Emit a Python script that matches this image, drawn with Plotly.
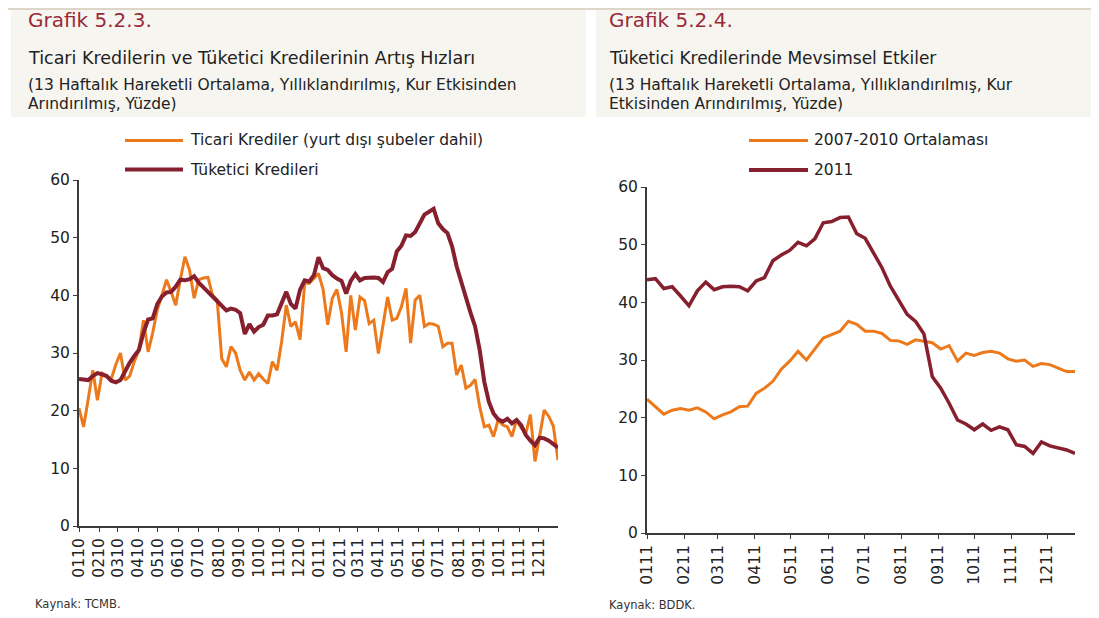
import pandas as pd
import plotly.graph_objects as go

# ---------------- data ----------------
# Left chart: weekly, 2010-01 .. 2011-12
left_dates = pd.date_range("2010-01-01", periods=105, freq="7D")
ticari = [20.4, 17.2, 22.0, 27.0, 21.8, 26.5, 26.0, 25.5, 28.0, 30.0,
          25.3, 26.0, 28.5, 30.5, 35.7, 30.2, 33.5, 37.5, 40.0, 42.7,
          40.6, 38.3, 42.7, 46.7, 44.4, 39.5, 42.7, 43.0, 43.1, 40.0,
          39.2, 29.0, 27.6, 31.1, 30.0, 27.0, 25.3, 26.7, 25.3, 26.4,
          25.5, 24.7, 28.5, 27.0, 32.0, 38.3, 34.6, 35.4, 32.3, 42.1,
          42.1, 43.0, 43.8, 41.0, 34.9, 39.5, 41.0, 37.0, 30.2, 40.0,
          34.0, 39.7, 39.1, 35.1, 35.7, 29.9, 34.6, 39.7, 35.7, 36.0,
          38.0, 41.2, 31.7, 39.2, 40.0, 34.6, 35.1, 35.0, 34.6, 31.1,
          31.7, 31.7, 26.2, 27.9, 23.9, 24.4, 25.4, 20.7, 17.2, 17.5,
          15.5, 18.4, 17.5, 17.2, 15.5, 18.4, 17.0, 16.0, 19.3, 11.2,
          15.5, 20.1, 19.0, 17.3, 11.4]
tuketici = [25.5, 25.4, 25.3, 26.0, 26.5, 26.3, 26.0, 25.2, 24.9, 25.3,
            27.0, 28.3, 29.5, 30.5, 33.5, 35.8, 36.0, 38.5, 39.8, 40.5,
            40.6, 41.5, 42.7, 42.6, 42.8, 43.3, 42.2, 41.5, 40.6, 39.8,
            39.0, 38.4, 37.4, 37.7, 37.5, 36.9, 33.3, 35.0, 33.7, 34.5,
            34.9, 36.5, 36.5, 36.7, 38.5, 40.6, 38.5, 37.7, 41.0, 42.6,
            42.4, 43.5, 46.6, 44.7, 44.4, 43.5, 42.9, 42.5, 40.3, 42.5,
            43.7, 42.6, 43.0, 43.1, 43.1, 43.0, 42.3, 44.0, 44.6, 47.6,
            48.6, 50.4, 50.3, 51.0, 52.5, 54.0, 54.5, 55.0, 52.5, 51.5,
            50.8, 48.5, 45.0, 42.2, 39.6, 37.0, 34.6, 30.5, 25.0, 21.5,
            19.5, 18.5, 18.1, 18.6, 17.8, 18.4, 17.5, 15.8, 14.8, 14.0,
            15.3, 15.2, 14.8, 14.3, 13.6]

# Right chart: weekly, 2011
right_dates = pd.date_range("2011-01-01", periods=52, freq="7D")
ort_0710 = [23.2, 21.9, 20.6, 21.3, 21.6, 21.3, 21.7, 21.0, 19.8, 20.5,
            21.0, 21.9, 22.0, 24.2, 25.1, 26.3, 28.4, 29.8, 31.5, 30.0,
            31.8, 33.8, 34.4, 35.0, 36.7, 36.2, 35.0, 35.0, 34.6, 33.4,
            33.3, 32.7, 33.5, 33.3, 33.0, 31.9, 32.5, 29.8, 31.2, 30.8,
            31.3, 31.5, 31.2, 30.2, 29.8, 30.0, 28.9, 29.4, 29.2, 28.6,
            28.0, 28.0]
y2011 = [43.9, 44.1, 42.4, 42.7, 41.1, 39.4, 42.0, 43.5, 42.2, 42.7,
         42.8, 42.7, 42.0, 43.7, 44.3, 47.2, 48.2, 49.0, 50.4, 49.8,
         51.0, 53.8, 54.0, 54.7, 54.8, 51.9, 51.1, 48.4, 46.0, 42.8,
         40.2, 37.9, 36.7, 34.5, 27.1, 25.1, 22.5, 19.6, 18.9, 17.9,
         18.9, 17.8, 18.4, 17.9, 15.3, 15.0, 13.8, 15.8, 15.1, 14.7,
         14.4, 13.8]

left_ticks = pd.date_range("2010-01-01", "2011-12-01", freq="MS")
left_ticktext = [d.strftime("%m%y") for d in left_ticks]
right_ticks = pd.date_range("2011-01-01", "2011-12-01", freq="MS")
right_ticktext = [d.strftime("%m%y") for d in right_ticks]
y_ticks = [0, 10, 20, 30, 40, 50, 60]

ORANGE = "#EC7A1C"
MAROON = "#861F2E"
TITLE_RED = "#9A2A3A"
TXT = "#222222"

# page body has an 8px margin: work in page pixels and shift
OFF = 8
W, H = 1099 - OFF, 618 - OFF


def px(x):
    return (x - OFF) / W


def py(y):
    return 1 - (y - OFF) / H


fig = go.Figure()
fig.add_trace(go.Scatter(x=left_dates, y=ticari, mode="lines",
                         line=dict(color=ORANGE, width=3), xaxis="x", yaxis="y",
                         name="Ticari Krediler (yurt dışı şubeler dahil)", showlegend=False))
fig.add_trace(go.Scatter(x=left_dates, y=tuketici, mode="lines",
                         line=dict(color=MAROON, width=4), xaxis="x", yaxis="y",
                         name="Tüketici Kredileri", showlegend=False))
fig.add_trace(go.Scatter(x=right_dates, y=ort_0710, mode="lines",
                         line=dict(color=ORANGE, width=3), xaxis="x2", yaxis="y2",
                         name="2007-2010 Ortalaması", showlegend=False))
fig.add_trace(go.Scatter(x=right_dates, y=y2011, mode="lines",
                         line=dict(color=MAROON, width=3.5), xaxis="x2", yaxis="y2",
                         name="2011", showlegend=False))

tickfont = dict(family="DejaVu Sans", size=15.5, color=TXT)
axis_common = dict(showline=True, linecolor="#3a3a3a", linewidth=2, ticks="outside",
                   ticklen=4, tickcolor="#3a3a3a", tickwidth=1, showgrid=False,
                   zeroline=False, tickfont=tickfont, fixedrange=True, automargin=False)

fig.update_layout(
    width=W, height=H,
    margin=dict(l=0, r=0, t=0, b=0, pad=0, autoexpand=False),
    paper_bgcolor="white", plot_bgcolor="white",
    showlegend=False,
    xaxis=dict(domain=[px(79), px(558)], anchor="y", type="date",
               range=["2010-01-01", "2011-12-30"],
               tickmode="array", tickvals=left_ticks, ticktext=left_ticktext,
               tickangle=-90, **axis_common),
    yaxis=dict(domain=[py(526), py(180)], anchor="x", range=[0, 60],
               tickmode="array", tickvals=y_ticks, **axis_common),
    xaxis2=dict(domain=[px(647), px(1075)], anchor="y2", type="date",
                range=["2011-01-01", "2011-12-24"],
                tickmode="array", tickvals=right_ticks, ticktext=right_ticktext,
                tickangle=-90, **axis_common),
    yaxis2=dict(domain=[py(533), py(187)], anchor="x2", range=[0, 60],
                tickmode="array", tickvals=y_ticks, **axis_common),
)

shapes = [
    # title backgrounds
    dict(type="rect", xref="paper", yref="paper", x0=px(11), x1=px(586), y0=py(117), y1=py(8),
         fillcolor="#F7F5EF", line=dict(width=0), layer="below"),
    dict(type="rect", xref="paper", yref="paper", x0=px(596), x1=px(1097), y0=py(117), y1=py(8),
         fillcolor="#F7F5EF", line=dict(width=0), layer="below"),
    dict(type="line", xref="paper", yref="paper", x0=px(8), x1=px(1099), y0=py(9), y1=py(9),
         line=dict(color="#DDD5C8", width=2)),
    # legend samples
    dict(type="line", xref="paper", yref="paper", x0=px(125), x1=px(183), y0=py(140.5), y1=py(140.5),
         line=dict(color=ORANGE, width=3)),
    dict(type="line", xref="paper", yref="paper", x0=px(125), x1=px(183), y0=py(169.5), y1=py(169.5),
         line=dict(color=MAROON, width=4)),
    dict(type="line", xref="paper", yref="paper", x0=px(749), x1=px(808), y0=py(140.5), y1=py(140.5),
         line=dict(color=ORANGE, width=3)),
    dict(type="line", xref="paper", yref="paper", x0=px(749), x1=px(808), y0=py(170), y1=py(170),
         line=dict(color=MAROON, width=4)),
]
fig.update_layout(shapes=shapes)


def ann(text, x, y, size, color=TXT, family="DejaVu Sans"):
    return dict(text=text, xref="paper", yref="paper", x=px(x), y=py(y),
                xanchor="left", yanchor="middle", showarrow=False,
                font=dict(family=family, size=size, color=color))


annotations = [
    ann("Grafik 5.2.3.", 26, 20, 20, TITLE_RED),
    ann("Ticari Kredilerin ve Tüketici Kredilerinin Artış Hızları", 26, 58, 17.5),
    ann("(13 Haftalık Hareketli Ortalama, Yıllıklandırılmış, Kur Etkisinden", 26, 85, 15.5),
    ann("Arındırılmış, Yüzde)", 26, 104, 15.5),
    ann("Grafik 5.2.4.", 607, 20, 20, TITLE_RED),
    ann("Tüketici Kredilerinde Mevsimsel Etkiler", 607, 58, 17),
    ann("(13 Haftalık Hareketli Ortalama, Yıllıklandırılmış, Kur", 607, 85, 15.5),
    ann("Etkisinden Arındırılmış, Yüzde)", 607, 104, 15.5),
    ann("Ticari Krediler (yurt dışı şubeler dahil)", 188, 140.5, 15.5),
    ann("Tüketici Kredileri", 188, 169.5, 15.5),
    ann("2007-2010 Ortalaması", 812, 140.5, 15.5),
    ann("2011", 812, 170, 15.5),
    ann("Kaynak: TCMB.", 33, 604, 11.5, "#333333"),
    ann("Kaynak: BDDK.", 607, 605, 11.5, "#333333"),
]
fig.update_layout(annotations=annotations)

fig.write_html("out.html")
